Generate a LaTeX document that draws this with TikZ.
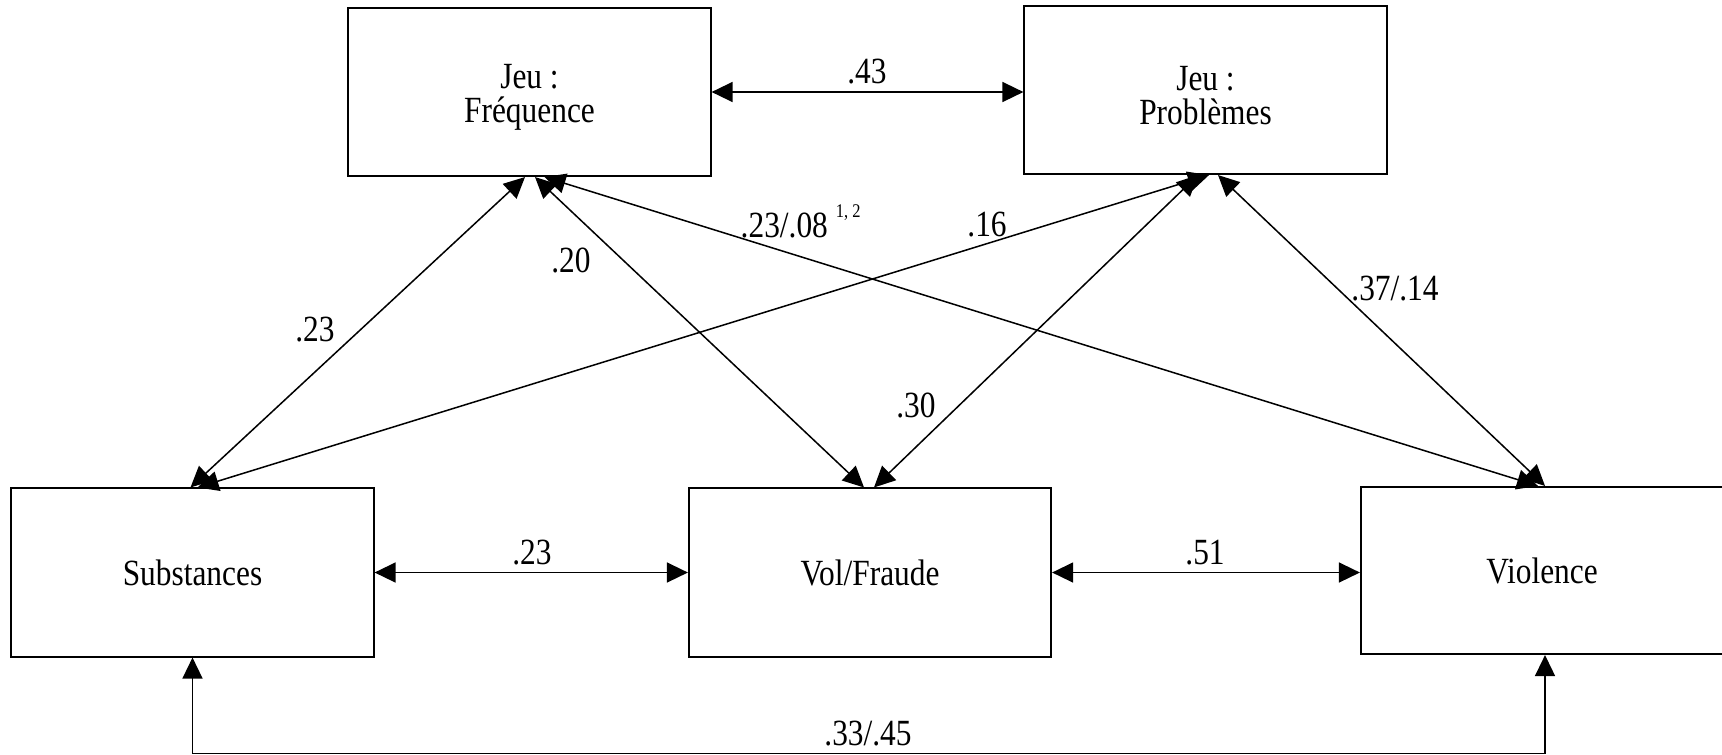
\documentclass[tikz,border=0pt]{standalone}
\usepackage{fontspec}
\setmainfont{Liberation Serif}[FakeStretch=0.85]
\usetikzlibrary{arrows.meta,calc}

\tikzset{
  varbox/.style={draw, line width=0.57pt, minimum width=3.62cm, minimum height=1.68cm, align=center, inner sep=0pt},
  jeubox/.style={varbox, text height=19.5pt},
  corr/.style={{Triangle[length=0.21cm,width=0.2cm]}-{Triangle[length=0.21cm,width=0.2cm]}, line width=0.43pt},
  coef/.style={anchor=base, inner sep=0pt},
}

\begin{document}
\begin{tikzpicture}[x=0.01cm, y=-0.01cm, font=\fontsize{10.5}{9.5}\selectfont]
\useasboundingbox (0,0) rectangle (1722,754);

% Jeu
\node[jeubox] (freq) at (529.5,92) {Jeu :\\Fréquence};
\node[jeubox] (prob) at (1205.5,90) {Jeu :\\Problèmes};

% Comportements
\node[varbox] (subst) at (192.5,572.5) {Substances};
\node[varbox] (vol) at (870,572.5) {Vol/Fraude};
\node[varbox, minimum height=1.67cm] (viol) at (1542,570.5) {Violence};

% horizontal
\draw[corr] (freq.east) -- (freq.east -| prob.west);
\node[coef] (c43) at (867,83) {.43};

\draw[corr] (subst.east) -- (vol.west);
\node[coef] (c23b) at (532,564) {.23};

\draw[corr] (vol.east) -- (vol.east -| viol.west);
\node[coef] (c51) at (1205,564) {.51};

% diagonals from Frequence
\draw[corr] ($(subst.north)+(-2,0)$) -- ($(freq.south)+(-4.5,0)$);
\node[coef] (c23a) at (315,341) {.23};

\draw[corr] ($(vol.north)+(-6,0)$) -- ($(freq.south)+(5.5,0)$);
\node[coef] (c20) at (571,272) {.20};

\draw[corr] ($(viol.north)+(-4,0)$) -- ($(freq.south)+(15,0)$);
\node[coef, anchor=base west] (c23c) at (740,237) {.23/.08\hspace{0.08cm}\raisebox{0.19cm}{\fontsize{5.5}{6}\selectfont 1, 2}};

% diagonals from Problemes
\draw[corr] ($(subst.north)+(5,0)$) -- ($(prob.south)+(3.5,0)$);
\node[coef] (c16) at (987,236) {.16};

\draw[corr] ($(vol.north)+(4,0)$) -- ($(prob.south)+(-7.5,0)$);
\node[coef] (c30) at (916,417) {.30};

\draw[corr] ($(viol.north)+(3,0)$) -- ($(prob.south)+(12.5,0)$);
\node[coef] (c37) at (1395,300) {.37/.14};

% bas
\coordinate (vs) at ($(viol.south)+(3,0)$);
\coordinate (bot) at ($(subst.south)+(0,96)$);
\draw[corr] (subst.south) -- (bot) -| (vs);
\node[coef] (c33) at (868,745) {.33/.45};
\end{tikzpicture}
\end{document}
